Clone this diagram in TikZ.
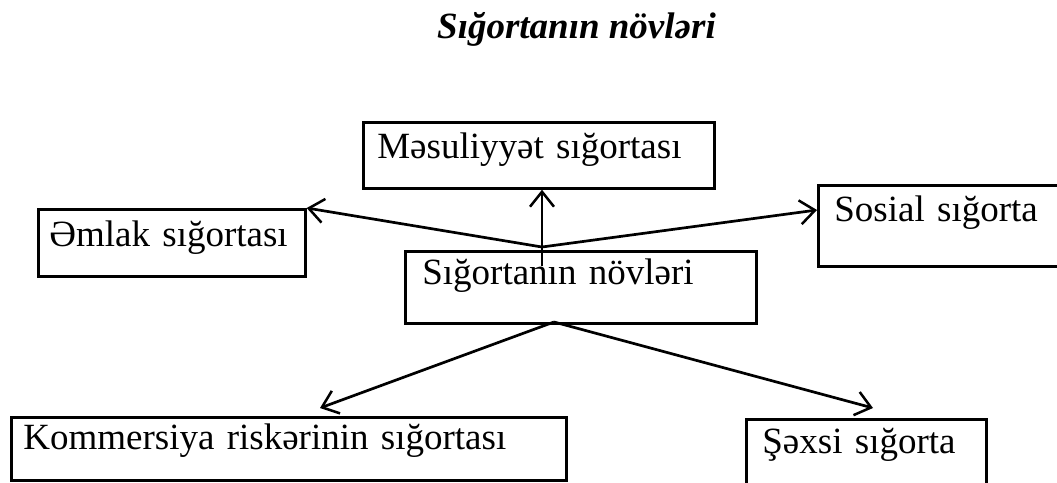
\documentclass[tikz,border=0pt]{standalone}
\usepackage{fontspec}
\setmainfont{Liberation Serif}
\usetikzlibrary{arrows.meta}
\begin{document}
\begin{tikzpicture}[x=1pt,y=-1pt,
  lw/.style={line width=2.7pt},
  boxnode/.style={draw, lw, rectangle, anchor=north west, align=left,
    inner ysep=0pt, font=\fontsize{37}{44}\selectfont},
  arr/.style={lw, -{Straight Barb[length=15pt,width=24pt,line width=2.5pt]}}]
\useasboundingbox (0,0) rectangle (1057,482);
\node[font=\fontsize{37}{44}\selectfont\bfseries\itshape, anchor=base west, inner sep=0pt]
  (title) at (437,38) {Sığortanın növləri};
\node[boxnode, inner xsep=14pt, text width=323pt, text height=36pt, text depth=30pt]
  (mas) at (362,121) {Məsuliyyət sığortası};
\node[boxnode, inner xsep=11pt, text width=245pt, text height=37pt, text depth=30pt]
  (eml) at (37,208) {Əmlak sığortası};
\node[boxnode, inner xsep=16pt, text width=240pt, text height=36pt, text depth=45pt]
  (sos) at (817,184) {Sosial sığorta};
\node[boxnode, inner xsep=17pt, text width=317pt, text height=33pt, text depth=39pt]
  (cen) at (404,250) {Sığortanın növləri};
\node[boxnode, inner xsep=12pt, text width=531pt, text height=32pt, text depth=31pt]
  (kom) at (10,416) {Kommersiya riskərinin sığortası};
\node[boxnode, inner xsep=16pt, text width=208pt, text height=34pt, text depth=43pt]
  (sex) at (745,418) {Şəxsi sığorta};
\coordinate (j1) at (542,247);
\coordinate (jv) at (542,266);
\coordinate (j2) at (554,322);
\coordinate (kt) at (320,408);
\coordinate (st) at (873,408);
\draw[arr] (j1) -- (eml.north east);
\draw[arr] (j1) -- ([yshift=-26pt]sos.north west);
\draw[arr] (jv) -- (jv |- mas.south);
\draw[arr] (j2) -- (kt);
\draw[arr] (j2) -- (st);
\end{tikzpicture}
\end{document}
